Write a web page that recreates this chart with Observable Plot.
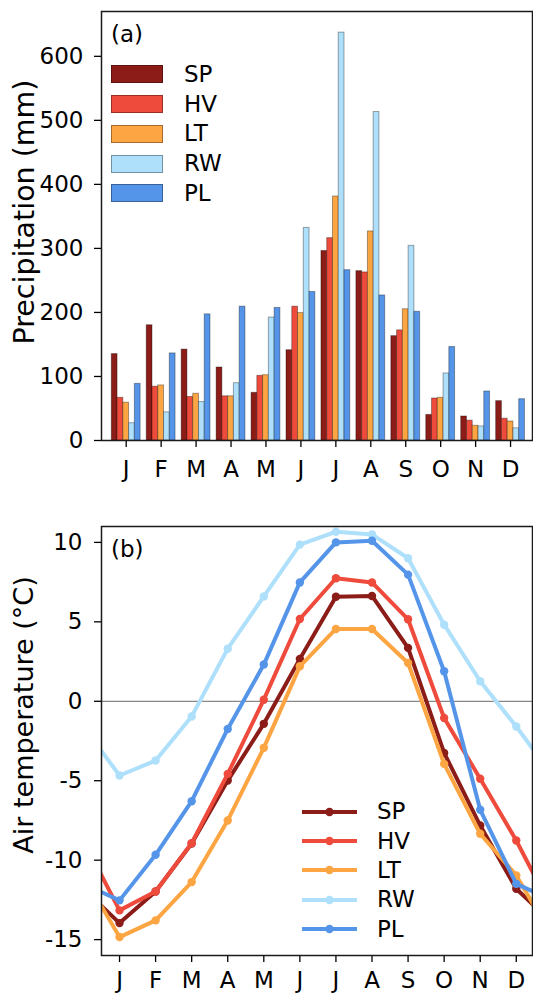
<!DOCTYPE html>
<html>
<head>
<meta charset="utf-8">
<script src="https://cdn.jsdelivr.net/npm/d3@7"></script>
<script src="https://cdn.jsdelivr.net/npm/@observablehq/plot@0.6"></script>
<style>
  body { margin: 0; background: #fff; font-family: "DejaVu Sans", sans-serif; }
  .panel { position: relative; width: 533px; }
  .panel svg { display: block; }
  .leg { position: absolute; display: flex; align-items: center; font-size: 23px; line-height: 1; color: #000; white-space: nowrap; }
  .tag { position: absolute; font-size: 23px; line-height: 1; color: #000; }
</style>
</head>
<body>
<div id="topPanel" class="panel"></div>
<div id="botPanel" class="panel"></div>
<script>
// ---------- data ----------
const months = ["J","F","M","A","M","J","J","A","S","O","N","D"];
const stations = ["SP","HV","LT","RW","PL"];
const stationColors = ["#8b1c17","#ef4b3c","#fda542","#aee0fb","#5595e9"];

const precipSP = [135, 180, 142, 114, 74.5, 141, 296, 264.5, 163, 40, 37.5, 61.5];
const precipHV = [66.7, 84, 68, 69, 101, 209, 316, 262.5, 172, 65.6, 31, 34];
const precipLT = [59, 86, 73, 69, 102, 199, 381, 326.5, 205, 66.7, 23, 29.7];
const precipRW = [27, 44, 60, 89.5, 192, 332, 637, 513, 304, 104.7, 22, 19];
const precipPL = [88.5, 136, 197, 209, 207, 232, 266, 226.5, 201, 146, 76.5, 64.5];

const tempSP = [-13.96, -11.97, -8.95, -4.99, -1.42, 2.67, 6.58, 6.63, 3.36, -3.25, -7.82, -11.8];
const tempHV = [-13.16, -11.97, -8.93, -4.57, 0.1, 5.18, 7.74, 7.48, 5.16, -1.05, -4.88, -8.76];
const tempLT = [-14.84, -13.79, -11.38, -7.5, -2.93, 2.2, 4.55, 4.55, 2.41, -3.94, -8.34, -10.96];
const tempRW = [-4.67, -3.73, -0.96, 3.31, 6.6, 9.86, 10.67, 10.5, 9.0, 4.82, 1.26, -1.59];
const tempPL = [-12.53, -9.66, -6.29, -1.74, 2.31, 7.48, 10.0, 10.1, 7.97, 1.89, -6.83, -11.49];

const precipTicks = [0, 100, 200, 300, 400, 500, 600];
const tempTicks = [-15, -10, -5, 0, 5, 10];

// ---------- tables ----------
const precipSeries = [precipSP, precipHV, precipLT, precipRW, precipPL];
const tempSeries = [tempSP, tempHV, tempLT, tempRW, tempPL];
const barW = 0.165;
const bars = [];
precipSeries.forEach((vals, k) => vals.forEach((v, i) => {
  const c = i + (k - 2) * barW;
  bars.push({station: stations[k], month: i, x1: c - barW / 2, x2: c + barW / 2, value: v});
}));
const tempTables = tempSeries.map((vals, k) => {
  const pts = vals.map((v, i) => ({station: stations[k], i, v}));
  // wrap-around: previous December and following January
  const line = [{station: stations[k], i: -1, v: vals[11]}, ...pts, {station: stations[k], i: 12, v: vals[0]}];
  return {pts, line};
});

const colorScale = {domain: stations, range: stationColors};
const fontName = "DejaVu Sans";

// ---------- (a) precipitation ----------
const chartA = Plot.plot({
  width: 533, height: 500,
  marginLeft: 101, marginRight: 1, marginTop: 11, marginBottom: 60,
  style: {fontFamily: fontName, fontSize: "23px", color: "#000", background: "#fff", overflow: "visible"},
  x: {domain: [-0.707, 11.628], axis: null},
  y: {domain: [0, 670], axis: null},
  color: colorScale,
  marks: [
    Plot.rect(bars, {x1: "x1", x2: "x2", y1: 0, y2: "value", fill: "station",
      stroke: "#000", strokeOpacity: 0.35, strokeWidth: 1}),
    Plot.axisX({ticks: d3.range(12), tickFormat: i => months[i], tickSize: 7, tickPadding: 13,
      label: null, fontSize: 23, stroke: "#000", strokeWidth: 1.3}),
    Plot.axisY({ticks: precipTicks, tickFormat: d => String(d), tickSize: 7, tickPadding: 11,
      label: null, fontSize: 23, stroke: "#000", strokeWidth: 1.3}),
    Plot.frame({stroke: "#1a1a1a", strokeWidth: 1.5}),
    Plot.text(["Precipitation (mm)"], {frameAnchor: "left", rotate: -90, textAnchor: "middle",
      lineAnchor: "middle", dx: -77, dy: -14, fontSize: 28.5, fill: "#000"})
  ]
});
document.getElementById("topPanel").appendChild(chartA);

// ---------- (b) air temperature ----------
const lineMarks = [];
tempTables.forEach(t => {
  lineMarks.push(Plot.line(t.line, {x: "i", y: "v", stroke: "station", strokeWidth: 4, clip: true,
    strokeLinejoin: "round"}));
  lineMarks.push(Plot.dot(t.pts, {x: "i", y: "v", fill: "station", r: 4.2, stroke: "none"}));
});
const chartB = Plot.plot({
  width: 533, height: 495,
  marginLeft: 101, marginRight: 1, marginTop: 26, marginBottom: 40,
  style: {fontFamily: fontName, fontSize: "23px", color: "#000", background: "#fff", overflow: "visible"},
  x: {domain: [-0.5, 11.45], axis: null},
  y: {domain: [-16, 11], axis: null},
  color: colorScale,
  marks: [
    Plot.ruleY([0], {stroke: "#888", strokeWidth: 1.2}),
    ...lineMarks,
    Plot.axisX({ticks: d3.range(12), tickFormat: i => months[i], tickSize: 7, tickPadding: 9,
      label: null, fontSize: 23, stroke: "#000", strokeWidth: 1.3}),
    Plot.axisY({ticks: tempTicks, tickFormat: d => String(d), tickSize: 7, tickPadding: 12,
      label: null, fontSize: 23, stroke: "#000", strokeWidth: 1.3}),
    Plot.frame({stroke: "#1a1a1a", strokeWidth: 1.5}),
    Plot.text(["Air temperature (°C)"], {frameAnchor: "left", rotate: -90, textAnchor: "middle",
      lineAnchor: "middle", dx: -77, dy: -26, fontSize: 27, fill: "#000"})
  ]
});
document.getElementById("botPanel").appendChild(chartB);

// ---------- legends & panel tags ----------
function addTag(container, text, left, topPx) {
  const d = document.createElement("div");
  d.className = "tag";
  d.style.left = left + "px";
  d.style.top = topPx + "px";
  d.textContent = text;
  container.appendChild(d);
}
const topDiv = document.getElementById("topPanel");
const botDiv = document.getElementById("botPanel");
addTag(topDiv, "(a)", 111, 23);
addTag(botDiv, "(b)", 111, 38);

stations.forEach((s, k) => {
  const row = document.createElement("div");
  row.className = "leg";
  row.style.left = "111px";
  row.style.top = (74.5 + k * 29.7 - 14.85) + "px";
  row.style.height = "29.7px";
  const patch = document.createElement("div");
  patch.style.cssText = `width:52px;height:18px;box-sizing:border-box;background:${stationColors[k]};border:1px solid rgba(0,0,0,0.35)`;
  const lab = document.createElement("span");
  lab.style.marginLeft = "21px";
  lab.textContent = s;
  row.appendChild(patch);
  row.appendChild(lab);
  topDiv.appendChild(row);
});

stations.forEach((s, k) => {
  const row = document.createElement("div");
  row.className = "leg";
  row.style.left = "302px";
  row.style.top = (311.7 + k * 29.4 - 14.7) + "px";
  row.style.height = "29.4px";
  const svg = d3.create("svg").attr("width", 55).attr("height", 10).style("display", "block");
  svg.append("line").attr("x1", 0).attr("x2", 55).attr("y1", 5).attr("y2", 5)
    .attr("stroke", stationColors[k]).attr("stroke-width", 4);
  svg.append("circle").attr("cx", 27.5).attr("cy", 5).attr("r", 4.2).attr("fill", stationColors[k]);
  const lab = document.createElement("span");
  lab.style.marginLeft = "20px";
  lab.textContent = s;
  row.appendChild(svg.node());
  row.appendChild(lab);
  botDiv.appendChild(row);
});
</script>
</body>
</html>
